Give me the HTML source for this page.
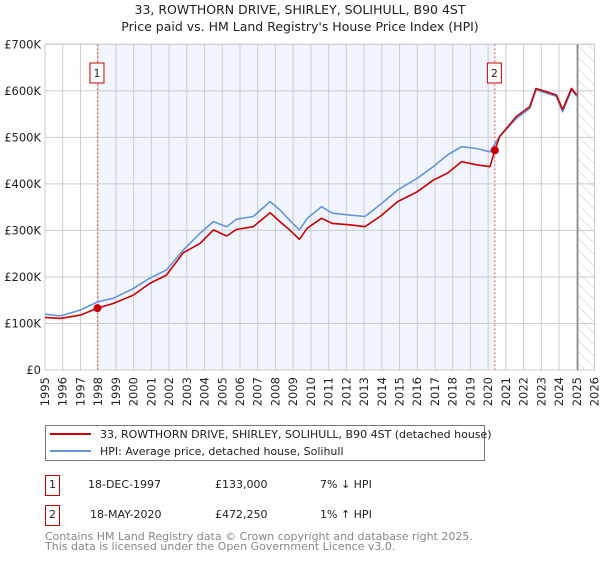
<!DOCTYPE html>
<html><head><meta charset="utf-8"><style>
body{margin:0;background:#fff;font-family:"Liberation Sans","DejaVu Sans",sans-serif;}
svg text{font-family:"DejaVu Sans","Liberation Sans",sans-serif;}
</style></head><body>
<svg id="c" width="600" height="560" xmlns="http://www.w3.org/2000/svg">
<defs><pattern id="hatch" width="8" height="8" patternUnits="userSpaceOnUse" patternTransform="rotate(-45)"><line x1="0" y1="0" x2="0" y2="8" stroke="#c8c8c8" stroke-width="1"/></pattern></defs>
<text x="300" y="14" text-anchor="middle" font-size="12.5" fill="#222">33, ROWTHORN DRIVE, SHIRLEY, SOLIHULL, B90 4ST</text>
<text x="300" y="31" text-anchor="middle" font-size="12.5" fill="#222">Price paid vs. HM Land Registry's House Price Index (HPI)</text>
<g id="plot"></g>
<rect x="45.5" y="425.5" width="439" height="35" fill="#fff" stroke="#777"/>
<line x1="50" y1="434" x2="91" y2="434" stroke="#cc0000" stroke-width="2"/>
<text x="100" y="438" font-size="11" fill="#222">33, ROWTHORN DRIVE, SHIRLEY, SOLIHULL, B90 4ST (detached house)</text>
<line x1="50" y1="451" x2="91" y2="451" stroke="#6495dc" stroke-width="2"/>
<text x="100" y="455" font-size="11" fill="#222">HPI: Average price, detached house, Solihull</text>
<g font-size="11" fill="#222">
<rect x="45.5" y="475.5" width="14" height="20" fill="#fff" stroke="#cc0000"/>
<text x="52.5" y="488" text-anchor="middle">1</text>
<text x="88" y="488">18-DEC-1997</text>
<text x="215" y="488">£133,000</text>
<text x="320" y="488">7% ↓ HPI</text>
<rect x="45.5" y="505.5" width="14" height="20" fill="#fff" stroke="#cc0000"/>
<text x="52.5" y="518" text-anchor="middle">2</text>
<text x="90" y="518">18-MAY-2020</text>
<text x="215" y="518">£472,250</text>
<text x="320" y="518">1% ↑ HPI</text>
</g>
<text x="45" y="540" font-size="11" fill="#888">Contains HM Land Registry data © Crown copyright and database right 2025.</text>
<text x="45" y="550" font-size="11" fill="#888">This data is licensed under the Open Government Licence v3.0.</text>
</svg>
<script>
const yearTicks=[1995,1996,1997,1998,1999,2000,2001,2002,2003,2004,2005,2006,2007,2008,2009,2010,2011,2012,2013,2014,2015,2016,2017,2018,2019,2020,2021,2022,2023,2024,2025,2026];
const valueTicks=[0,100,200,300,400,500,600,700];
const valueTickLabels=["£0","£100K","£200K","£300K","£400K","£500K","£600K","£700K"];
const hpiYears=[1995,1995.85,1997,1998,1998.85,1999.98,2000.9,2001.85,2002.8,2003.75,2004.5,2005.25,2005.8,2006.75,2007.7,2008.25,2008.8,2009.35,2009.8,2010.6,2011.2,2012.2,2013.05,2013.9,2014.9,2016.0,2016.9,2017.7,2018.5,2019.35,2020.1,2020.65,2021.6,2022.35,2022.7,2023.3,2023.85,2024.2,2024.7,2025.0];
const hpiValues=[120,116,129,147,154,175,197,215,258,294,319,308,324,330,362,344,322,301,326,351,337,333,330,355,387,412,437,462,480,476,469,502,541,562,602,595,588,555,602,588];
const propYears=[1995,1995.85,1997,1997.96,1998.85,1999.98,2000.9,2001.85,2002.8,2003.75,2004.5,2005.25,2005.8,2006.75,2007.7,2008.25,2008.8,2009.35,2009.8,2010.6,2011.2,2012.2,2013.05,2013.9,2014.9,2016.0,2016.9,2017.7,2018.5,2019.35,2020.1,2020.38,2020.65,2021.6,2022.35,2022.7,2023.3,2023.85,2024.2,2024.7,2025.0];
const propValues=[113,111,118,133,143,161,186,204,252,272,301,288,302,308,338,319,301,281,305,326,315,312,308,330,362,383,408,423,448,441,437,472.25,502,545,566,605,598,591,560,605,591];
const saleYears=[1997.96,2020.38];
const saleValues=[133,472.25];
const saleLabels=["1","2"];

const L=45,R=594.5,T=44.3,B=370;
const x=y=>L+(y-1995)/(2026-1995)*(R-L);
const yv=v=>B-v/700*(B-T);
const NS="http://www.w3.org/2000/svg";
const g=document.getElementById('plot');
function mk(tag,attrs,parent){const e=document.createElementNS(NS,tag);for(const k in attrs)e.setAttribute(k,attrs[k]);(parent||g).appendChild(e);return e;}

let e=mk('rect',{x:x(saleYears[0]),y:T,width:x(saleYears[1])-x(saleYears[0]),height:B-T,fill:'#f2f5fd'});


e=mk('rect',{x:x(2025.05),y:T,width:R-x(2025.05),height:B-T,fill:'url(#hatch)'});



yearTicks.forEach(yr=>{
  e=mk('line',{x1:x(yr),x2:x(yr),y1:T,y2:B,stroke:'#cccccc','stroke-width':1});
  
  
  const t=mk('text',{x:0,y:0,'font-size':11.5,fill:'#222','text-anchor':'end',transform:`translate(${x(yr)+4},${B+7}) rotate(-90)`});
  t.textContent=yr;
  
  
});
valueTicks.forEach((v,i)=>{
  e=mk('line',{x1:L,x2:R,y1:yv(v),y2:yv(v),stroke:'#cccccc','stroke-width':1});
  
  
  const t=mk('text',{x:41,y:yv(v)+4,'font-size':11.5,fill:'#222','text-anchor':'end'});
  t.textContent=valueTickLabels[i];
  
  
});
e=mk('rect',{x:L,y:T,width:R-L,height:B-T,fill:'none',stroke:'#cccccc'});


e=mk('line',{x1:x(2025.05),x2:x(2025.05),y1:T,y2:B,stroke:'#888','stroke-width':1.5});



saleYears.forEach((yr,i)=>{
  e=mk('line',{x1:x(yr),x2:x(yr),y1:T,y2:B,stroke:'#e06060','stroke-width':1,'stroke-dasharray':'2,2'});
  
  
  e=mk('rect',{x:x(yr)-7.5,y:63,width:14,height:20,fill:'#fff',stroke:'#cc0000'});
  
  
  const t=mk('text',{x:x(yr)-0.5,y:77,'font-size':11,fill:'#222','text-anchor':'middle'});
  t.textContent=saleLabels[i];
  
  
});

const pts=(xs,vs)=>xs.map((a,i)=>x(a).toFixed(1)+','+yv(vs[i]).toFixed(1)).join(' ');
e=mk('polyline',{points:pts(hpiYears,hpiValues),fill:'none',stroke:'#6495dc','stroke-width':1.6,'stroke-linejoin':'round'});


e=mk('polyline',{points:pts(propYears,propValues),fill:'none',stroke:'#cc0000','stroke-width':1.6,'stroke-linejoin':'round'});


saleYears.forEach((yr,i)=>{
  e=mk('circle',{cx:x(yr),cy:yv(saleValues[i]),r:4,fill:'#cc0000'});
  
  
});
</script>
</body></html>
